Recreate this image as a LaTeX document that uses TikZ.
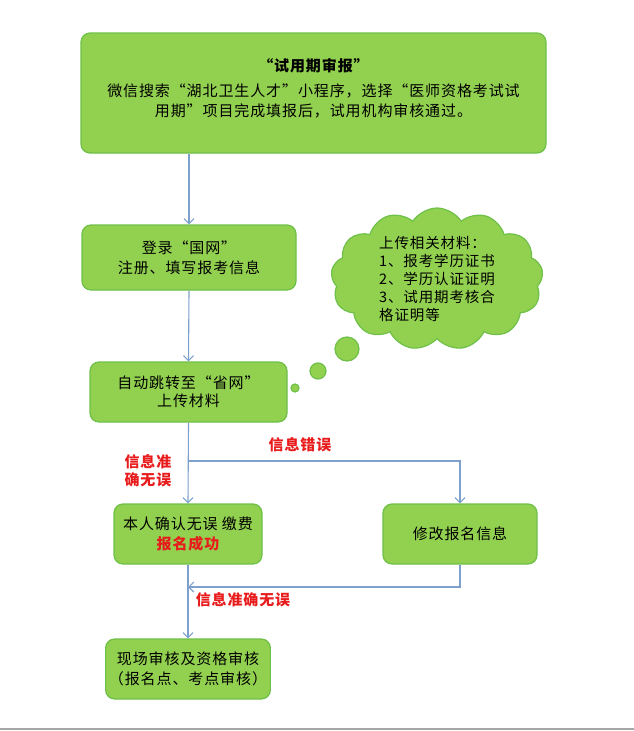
\documentclass[tikz,border=0pt]{standalone}
\usepackage{fontspec}
\setmainfont{Noto Sans CJK SC}[LetterSpace=6]
\usetikzlibrary{arrows.meta,shapes.symbols}
\definecolor{boxgreen}{RGB}{146,208,80}
\definecolor{boxline}{RGB}{110,192,72}
\definecolor{flowblue}{RGB}{125,160,205}
\definecolor{noteRed}{RGB}{232,28,28}

\begin{document}
\begin{tikzpicture}[x=1pt,y=-1pt,
  box/.style={draw=boxline,fill=boxgreen,line width=1.2pt,rounded corners=9pt,align=center,font=\fontsize{15}{20}\selectfont},
  flow/.style={draw=flowblue,line width=1.1pt,-{Straight Barb[length=5pt,width=10pt]}},
  redtxt/.style={text=noteRed,font=\fontsize{15}{18}\selectfont\bfseries}]
\useasboundingbox (0,0) rectangle (634,731);
\node[box,minimum width=465,minimum height=120](apply)at(313.5,93){{\bfseries “试用期审报”}\\[5pt]
 微信搜索“湖北卫生人才”小程序，选择“医师资格考试试\\用期”项目完成填报后，试用机构审核通过。\\[-8pt]~};
\node[box,minimum width=214,minimum height=65](reg)at(189,257.5){登录“国网”\\注册、填写报考信息};
\node[box,minimum width=197,minimum height=60](upl)at(188.5,392){自动跳转至“省网”\\[-2pt]上传材料};
\node[box,minimum width=148,minimum height=60](ok)at(188,534){本人确认无误 缴费\\{\color{noteRed}\bfseries 报名成功}};
\node[box,minimum width=154,minimum height=60](fix)at(460,534){修改报名信息};
\node[box,minimum width=148,minimum height=60](chk)at(188,669){现场审核及资格审核\\（报名点、考点审核）};
%%% cloud
\node[cloud,cloud puffs=13,cloud puff arc=115,cloud ignores aspect,draw=boxline,fill=boxgreen,line width=1.2pt,
  minimum width=212,minimum height=142,inner sep=0pt,align=left,
  font=\fontsize{14.5}{18}\selectfont](need)at(437,279){上传相关材料：\\1、报考学历证书\\2、学历认证证明\\3、试用期考核合\\格证明等};
\draw[draw=boxline,fill=boxgreen,line width=1.2pt](347,349)circle(12)(318,371)circle(8)(295,388)circle(4);
%%% labels
\node[redtxt](bad)at(300,445){信息错误};
\node[redtxt,align=left](good)at(148,471){信息准\\确无误};
\node[redtxt](good2)at(243,600){信息准确无误};
%%% connectors
\coordinate(split)at(188,461);
\coordinate(merge)at(188,587);
\draw[flow](apply.south -| reg.north)--(reg.north);
\draw[flow](reg.south)--(upl.north);
\draw[flow](upl.south)--(ok.north);
\draw[flow](split)-|(fix.north);
\draw[flow](fix.south)|-(merge);
\draw[flow](ok.south)--(chk.north);
\draw[gray!70,line width=2pt](0,729)--(634,729);
\end{tikzpicture}
\end{document}
